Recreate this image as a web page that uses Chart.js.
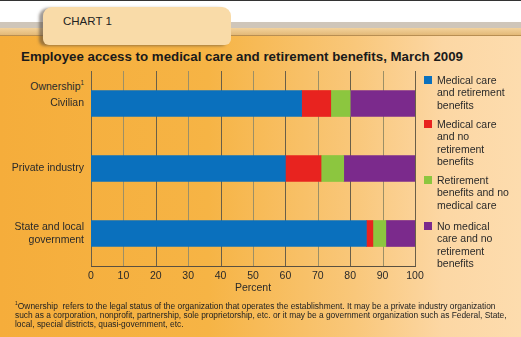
<!DOCTYPE html>
<html>
<head>
<meta charset="utf-8">
<script src="https://cdn.jsdelivr.net/npm/chart.js@4/dist/chart.umd.min.js"></script>
<style>
  html, body { margin: 0; padding: 0; }
  body { width: 521px; height: 337px; position: relative; overflow: hidden; background: #fff;
         font-family: "Liberation Sans", Arial, sans-serif; color: #1e1e1e; }
  .abs { position: absolute; }
  #topline { left: 0; top: 0; width: 521px; height: 1px; background: #333; }
  #band1 { left: 0; top: 22px; width: 521px; height: 6px; background: #cfc6ba; }
  #band2 { left: 0; top: 28px; width: 521px; height: 7px; background: linear-gradient(#f3d29c, #e3b977); }
  #band3 { left: 0; top: 35px; width: 521px; height: 1px; background: #b88e52; }
  #panel { left: 0; top: 36px; width: 521px; height: 301px;
           background: linear-gradient(to right, #f5ad3b 0%, #f6b445 40%, #f9c77a 68%, #fcd7a4 85%, #fddcae 100%); }
  #tab { left: 43px; top: 7px; width: 188px; height: 38px; background: #f9dba8;
         border-radius: 9px 9px 6px 6px; box-shadow: -4px 1px 3px rgba(80,70,60,0.55); }
  #tabtext { left: 63px; top: 15px; font-size: 11.5px; color: #222; }
  #title { left: 0; top: 49px; width: 484px; text-align: center; font-weight: bold; font-size: 13.3px; color: #1a1a1a; white-space: nowrap; }
  #own { left: 0; top: 79px; width: 84px; text-align: right; font-size: 10.5px; color: #2a2a2a; }
  #own sup, #foot sup { font-size: 60%; }
  #chartbox { left: 0; top: 0; width: 521px; height: 337px; }
  .leg { position: absolute; left: 424px; font-size: 10.5px; line-height: 12.3px; color: #2a2a2a; }
  .leg i { position: absolute; left: 0; top: 2px; width: 8px; height: 8px; }
  .leg span { display: block; margin-left: 13px; white-space: nowrap; }
  #foot { left: 15px; top: 299px; font-size: 8.4px; line-height: 9px; color: #222; white-space: nowrap; }
</style>
</head>
<body>
<div class="abs" id="panel"></div>
<div class="abs" id="band1"></div>
<div class="abs" id="band2"></div>
<div class="abs" id="band3"></div>
<div class="abs" id="topline"></div>
<div class="abs" id="tab"></div>
<div class="abs" id="tabtext">CHART 1</div>
<div class="abs" id="title">Employee access to medical care and retirement benefits, March 2009</div>
<div class="abs" id="own">Ownership<sup>1</sup></div>
<div class="abs" id="chartbox"><canvas id="c" width="521" height="337"></canvas></div>
<div id="legend"></div>
<div class="abs" id="foot"><sup>1</sup>Ownership&nbsp; refers to the legal status of the organization that operates the establishment. It may be a private industry organization<br>such as a corporation, nonprofit, partnership, sole proprietorship, etc. or it may be a government organization such as Federal, State,<br>local, special districts, quasi-government, etc.</div>
<script>
// ── data ──────────────────────────────────────────────
var categories = [["Civilian"], ["Private industry"], ["State and local", "government"]];
var medAndRet   = [65, 60, 85];
var medNoRet    = [9, 11, 2];
var retNoMed    = [6, 7, 4];
var neither     = [20, 22, 9];
var xTicks      = [0, 10, 20, 30, 40, 50, 60, 70, 80, 90, 100];

var seriesNames  = [
  ["Medical care", "and retirement", "benefits"],
  ["Medical care", "and no", "retirement", "benefits"],
  ["Retirement", "benefits and no", "medical care"],
  ["No medical", "care and no", "retirement", "benefits"]
];
var seriesColors = ["#0a70bd", "#e8231f", "#8cc63f", "#7b2a8c"];
var legendTops   = [74, 118, 174, 220];

// ── legend (html) ─────────────────────────────────────
var legHtml = "";
seriesNames.forEach(function(lines, i) {
  legHtml += "<div class=\"leg\" style=\"top:" + legendTops[i] + "px\"><i style=\"background:" + seriesColors[i] + "\"></i>" +
    lines.map(function(l) { return "<span>" + l + "</span>"; }).join("") + "</div>";
});
document.getElementById("legend").innerHTML = legHtml;

// ── chart ─────────────────────────────────────────────
var values = [medAndRet, medNoRet, retNoMed, neither];
var datasets = values.map(function(v, i) {
  return {
    label: seriesNames[i].join(" "),
    data: v,
    backgroundColor: seriesColors[i],
    borderWidth: 0,
    barThickness: 26
  };
});

// vertical grid lines, drawn behind the bars from the x scale
var gridPlugin = {
  id: "vgrid",
  beforeDatasetsDraw: function(chart) {
    var ctx = chart.ctx, x = chart.scales.x, a = chart.chartArea;
    ctx.save();
    ctx.lineWidth = 1;
    xTicks.forEach(function(v) {
      var px = Math.round(x.getPixelForValue(v)) + 0.5;
      ctx.strokeStyle = (v % 20 === 10) ? "#9c8f66" : "#6a5f48";
      ctx.beginPath();
      ctx.moveTo(px, a.top);
      ctx.lineTo(px, a.bottom);
      ctx.stroke();
    });
    ctx.restore();
  }
};

new Chart(document.getElementById("c").getContext("2d"), {
  type: "bar",
  data: { labels: categories, datasets: datasets },
  plugins: [gridPlugin],
  options: {
    indexAxis: "y",
    responsive: false,
    animation: false,
    layout: { padding: { left: 0, right: 106, top: 71, bottom: 43 } },
    plugins: { legend: { display: false }, tooltip: { enabled: false } },
    scales: {
      x: {
        stacked: true, min: 0, max: 100,
        ticks: { stepSize: 10, color: "#2a2a2a", font: { family: "Liberation Sans", size: 10.5 }, padding: 4, maxRotation: 0 },
        afterFit: function(s) { s.height = 28; },
        grid: { display: false, drawTicks: false },
        border: { display: true, color: "#5a5040", width: 1 },
        title: { display: true, text: "Percent", color: "#2a2a2a", font: { family: "Liberation Sans", size: 10.5 }, padding: { top: 0, bottom: 0 } }
      },
      y: {
        stacked: true,
        afterFit: function(s) { s.width = 91; },
        grid: { display: false, drawTicks: false },
        border: { display: false },
        ticks: { color: "#2a2a2a", font: { family: "Liberation Sans", size: 10.5, lineHeight: 1.2 }, padding: 7 }
      }
    }
  }
});
</script>
</body>
</html>
